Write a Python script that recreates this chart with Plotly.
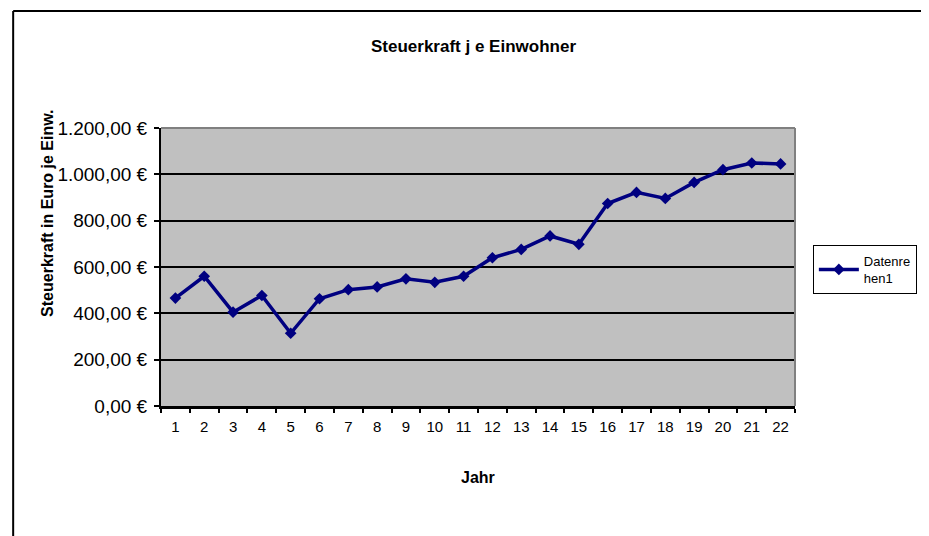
import plotly.graph_objects as go

jahre = [str(i) for i in range(1, 23)]
steuerkraft = [466, 560, 405, 477, 314, 463, 502, 514, 549, 534, 560,
               640, 676, 734, 698, 874, 922, 896, 965, 1020, 1049, 1045]
y_ticks = [0, 200, 400, 600, 800, 1000, 1200]
y_ticklabels = ["0,00 €", "200,00 €", "400,00 €", "600,00 €", "800,00 €",
                "1.000,00 €", "1.200,00 €"]

title_text = "Steuerkraft j e Einwohner"
y_title = "Steuerkraft in Euro je Einw."
x_title = "Jahr"
series_name = "Datenre<br>hen1"

OFF = 8  # page body margin
W, H = 929 - OFF, 536 - OFF
L, R, T, B = 161, 800, 128, 406  # plot area in page pixels
FONT = "Liberation Sans, Arial, sans-serif"

def px_x(p):
    return (p - L) / (R - L)

def px_y(p):
    return (B - p) / (B - T)

fig = go.Figure()
fig.add_trace(go.Scatter(
    x=jahre, y=steuerkraft, mode="lines+markers", name=series_name,
    line=dict(color="#000080", width=3.5),
    marker=dict(symbol="diamond", size=9, color="#000080"),
))

fig.update_layout(
    width=W, height=H,
    margin=dict(l=L - OFF, r=W - (R - OFF), t=T - OFF, b=H - (B - OFF), pad=0),
    paper_bgcolor="white", plot_bgcolor="#C0C0C0",
    font=dict(family=FONT, color="black"),
    showlegend=True,
    legend=dict(
        x=px_x(818), y=px_y(245), xanchor="left", yanchor="top",
        bgcolor="white", bordercolor="black", borderwidth=1,
        font=dict(size=13, family=FONT), itemwidth=40,
        tracegroupgap=0,
    ),
    xaxis=dict(
        type="category", tickson="boundaries", ticks="outside", ticklen=4,
        tickwidth=2, tickcolor="black", showgrid=False,
        showline=True, linecolor="black", linewidth=3,
        tickfont=dict(size=15), range=[-0.5, 21.5], ticklabelstandoff=5,
    ),
    yaxis=dict(
        range=[0, 1200], tickvals=y_ticks, ticktext=y_ticklabels,
        ticks="outside", ticklen=5, tickwidth=2, tickcolor="black",
        showgrid=True, gridcolor="black", gridwidth=2,
        showline=True, linecolor="black", linewidth=2,
        tickfont=dict(size=19), zeroline=False, ticklabelstandoff=3,
    ),
)

# plot area top and right border (gray)
fig.add_shape(type="line", xref="paper", yref="paper", x0=0, x1=1, y0=1, y1=1,
              line=dict(color="#808080", width=2), layer="above")
fig.add_shape(type="line", xref="paper", yref="paper", x0=1, x1=1, y0=0, y1=1,
              line=dict(color="#808080", width=2), layer="above")

# outer chart border (left and top edges visible)
fig.add_shape(type="line", xref="paper", yref="paper",
              x0=px_x(12), x1=px_x(12), y0=px_y(560), y1=px_y(11),
              line=dict(color="black", width=2), layer="above")
fig.add_shape(type="line", xref="paper", yref="paper",
              x0=px_x(12), x1=px_x(960), y0=px_y(11), y1=px_y(11),
              line=dict(color="black", width=2), layer="above")

fig.add_annotation(text="<b>" + title_text + "</b>", xref="paper", yref="paper",
                   x=px_x(476), y=px_y(46), showarrow=False,
                   xanchor="center", yanchor="middle",
                   font=dict(size=17, family=FONT))
fig.add_annotation(text="<b>" + y_title + "</b>", xref="paper", yref="paper",
                   x=px_x(46), y=px_y(213), showarrow=False, textangle=-90,
                   xanchor="center", yanchor="middle",
                   font=dict(size=16, family=FONT))
fig.add_annotation(text="<b>" + x_title + "</b>", xref="paper", yref="paper",
                   x=px_x(480), y=px_y(477), showarrow=False,
                   xanchor="center", yanchor="middle",
                   font=dict(size=16, family=FONT))

fig.write_html("out.html")
